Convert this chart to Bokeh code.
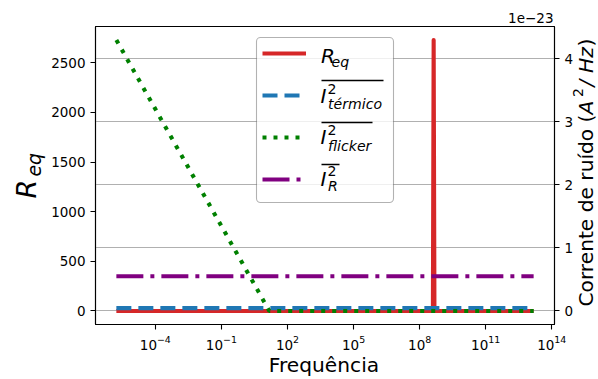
import numpy as np
from bokeh.plotting import figure
from bokeh.models import (Range1d, LinearAxis, FixedTicker, LogTickFormatter, Grid,
                          Legend, LegendItem, Label, BoxAnnotation)
from bokeh.embed import file_html
from bokeh.resources import INLINE

# ---------------- data ----------------
freq = [1.7e-6, 15.0, 1e3, 1e5, 1e7, 4.0e8, 4.33e8, 4.7e8, 1e10, 1e12, 1.5e13]
r_eq = [0, 0, 0, 0, 0, 0, 2730, 0, 0, 0, 0]
i2_termico = [4.5e-25, 4.5e-25, 4.5e-25, 4.5e-25, 4.5e-25, 4.5e-25,
              4.5e-25, 4.5e-25, 4.5e-25, 4.5e-25, 4.5e-25]
i2_flicker = [4.3e-23, 4.9e-30, 7.3e-32, 7.3e-34, 7.3e-36, 1.8e-37,
              1.7e-37, 1.6e-37, 7.3e-39, 7.3e-41, 4.9e-42]
i2_R = [5.5e-24, 5.5e-24, 5.5e-24, 5.5e-24, 5.5e-24, 5.5e-24,
        5.5e-24, 5.5e-24, 5.5e-24, 5.5e-24, 5.5e-24]

x_ticks = [1e-4, 1e-1, 1e2, 1e5, 1e8, 1e11, 1e14]
r_ticks = [0, 500, 1000, 1500, 2000, 2500]
noise_ticks = [0, 1, 2, 3, 4]
noise_unit = 1e-23

# ---------------- ranges (matplotlib-like 5% margins) ----------------
lf = np.log10(freq)
pad = 0.05 * (lf.max() - lf.min())
x_range = Range1d(10 ** (lf.min() - pad), 10 ** (lf.max() + pad))

r = np.array(r_eq, dtype=float)
rpad = 0.05 * (r.max() - r.min())
y_range = Range1d(r.min() - rpad, r.max() + rpad)

noise_all = np.concatenate([i2_termico, i2_flicker, i2_R]) / noise_unit
npad = 0.05 * (noise_all.max() - noise_all.min())
noise_range = Range1d(noise_all.min() - npad, noise_all.max() + npad)

W, H = 598, 379
FL, FR, FT, FB = 95, 44, 26, 55  # borders around frame

FONT = "DejaVu Sans"
TICK = 13.5

p = figure(width=W, height=H, x_axis_type="log", x_range=x_range, y_range=y_range,
           output_backend="svg", toolbar_location=None,
           min_border_left=FL, min_border_right=FR, min_border_top=FT, min_border_bottom=FB)
p.extra_y_ranges = {"noise": noise_range}
p.background_fill_color = "white"
p.border_fill_color = "white"
p.outline_line_color = "black"
p.outline_line_width = 1.1
p.outline_line_alpha = 1.0
p.xgrid.visible = False
p.ygrid.visible = False

right_axis = LinearAxis(y_range_name="noise", ticker=FixedTicker(ticks=noise_ticks))
p.add_layout(right_axis, "right")

p.xaxis.ticker = FixedTicker(ticks=x_ticks)
p.xaxis.formatter = LogTickFormatter()
p.yaxis[0].ticker = FixedTicker(ticks=r_ticks)

for ax in [p.xaxis[0], p.yaxis[0], right_axis]:
    ax.axis_line_color = "black"
    ax.axis_line_width = 1.1
    ax.major_tick_line_color = "black"
    ax.major_tick_line_width = 1.1
    ax.major_tick_out = 5
    ax.major_tick_in = 0
    ax.minor_tick_line_color = None
    ax.major_label_text_font = FONT
    ax.major_label_text_font_size = f"{TICK}px"
    ax.major_label_text_color = "black"
    ax.major_label_standoff = 5
    ax.axis_label = None

grid = Grid(dimension=1, ticker=right_axis.ticker, y_range_name="noise",
            grid_line_color="#b0b0b0", grid_line_width=1.1)
p.add_layout(grid)

# ---------------- lines ----------------
def noise_scaled(a):
    return list(np.array(a) / noise_unit)

lw = 4.1
r1 = p.line(freq, r_eq, line_color="#d62728", line_width=lw, line_join="round")
r2 = p.line(freq, noise_scaled(i2_termico), y_range_name="noise",
            line_color="#1f77b4", line_width=lw, line_dash="15 7")
r3 = p.line(freq, noise_scaled(i2_flicker), y_range_name="noise",
            line_color="#008000", line_width=lw, line_dash="4 7")
r4 = p.line(freq, noise_scaled(i2_R), y_range_name="noise",
            line_color="#800080", line_width=lw, line_dash="27 7 4 7")

# ---------------- legend frame + samples (inside the plot frame) ----------------
IMG_L, IMG_B = FL, H - FB
def sx(X):
    return X - IMG_L
def sy(Y):
    return IMG_B - Y

p.add_layout(BoxAnnotation(left=sx(256), right=sx(393), top=sy(37), bottom=sy(202),
                           left_units="screen", right_units="screen",
                           top_units="screen", bottom_units="screen",
                           fill_color="white", fill_alpha=0.8,
                           line_color="black", line_width=1.1, border_radius=4))

legend = Legend(items=[LegendItem(label=" ", renderers=[rr]) for rr in (r1, r2, r3, r4)],
                location=(sx(259), sy(195)), orientation="vertical", padding=3, spacing=16,
                glyph_width=44, glyph_height=26, label_height=26, label_width=1,
                label_standoff=0, label_text_font_size="1px", margin=0,
                background_fill_alpha=0, border_line_alpha=0)
p.add_layout(legend)

# ---------------- transparent overlay for free texts (pixel coordinates) ----------------
t = figure(width=W, height=H, x_range=Range1d(0, W), y_range=Range1d(H, 0),
           output_backend="svg", toolbar_location=None, min_border=0,
           x_axis_location=None, y_axis_location=None,
           styles={"position": "absolute", "top": "0px", "left": "0px",
                   "pointer-events": "none"})
t.background_fill_color = None
t.border_fill_color = None
t.outline_line_color = None
t.xgrid.visible = False
t.ygrid.visible = False

BASE_SHIFT = 0.346  # observed baseline offset of Label text, in em

def lab(X, Y, text, size, italic=False, angle=0.0, align="left"):
    off = BASE_SHIFT * size
    if angle == 0.0:
        Y = Y - off
    else:
        X = X - off
    t.add_layout(Label(x=X, y=Y, text=text,
                       text_font=FONT, text_font_size=f"{size}px",
                       text_font_style="italic" if italic else "normal",
                       text_baseline="alphabetic", text_align=align,
                       text_color="black", angle=angle))

def hbar(X0, X1, Yc, th=1.4):
    t.add_layout(BoxAnnotation(left=X0, right=X1, top=Yc - th / 2, bottom=Yc + th / 2,
                               fill_color="black", fill_alpha=1.0, line_alpha=0))

BIG, SMALL = 20.2, 14.1
# legend texts
lab(320.5, 62, "R", BIG, italic=True)
lab(331, 66, "eq", SMALL, italic=True)

hbar(321, 383, 80)
lab(320, 102, "I", BIG, italic=True)
lab(327, 93, "2", SMALL)
lab(327.5, 108, "térmico", SMALL, italic=True)

hbar(321, 372, 122)
lab(320, 143, "I", BIG, italic=True)
lab(327, 134, "2", SMALL)
lab(327.5, 150, "flicker", SMALL, italic=True)

hbar(321, 339, 164)
lab(320, 185, "I", BIG, italic=True)
lab(327, 175, "2", SMALL)
lab(327.5, 190, "R", SMALL, italic=True)

# axis titles
lab(323.5, 371, "Frequência", BIG, align="center")

UP = np.pi / 2
lab(35, 198, "R", 27, italic=True, angle=UP)
lab(40, 176, "eq", 18.9, italic=True, angle=UP)

RB = 592.5  # baseline of the right-hand title
lab(RB, 114, "Corrente de ruído (", BIG, angle=UP, align="right")
lab(RB, 114, "A", BIG, italic=True, angle=UP)
lab(RB - 10, 96.5, "2", SMALL, angle=UP)
lab(RB, 86, "/", BIG, italic=True, angle=UP)
lab(RB, 72.5, "Hz", BIG, italic=True, angle=UP)
lab(RB, 46, ")", BIG, angle=UP)

lab(553, 22.5, "1e\u221223", TICK, align="right")

open("out.html", "w").write(file_html([p, t], INLINE))
